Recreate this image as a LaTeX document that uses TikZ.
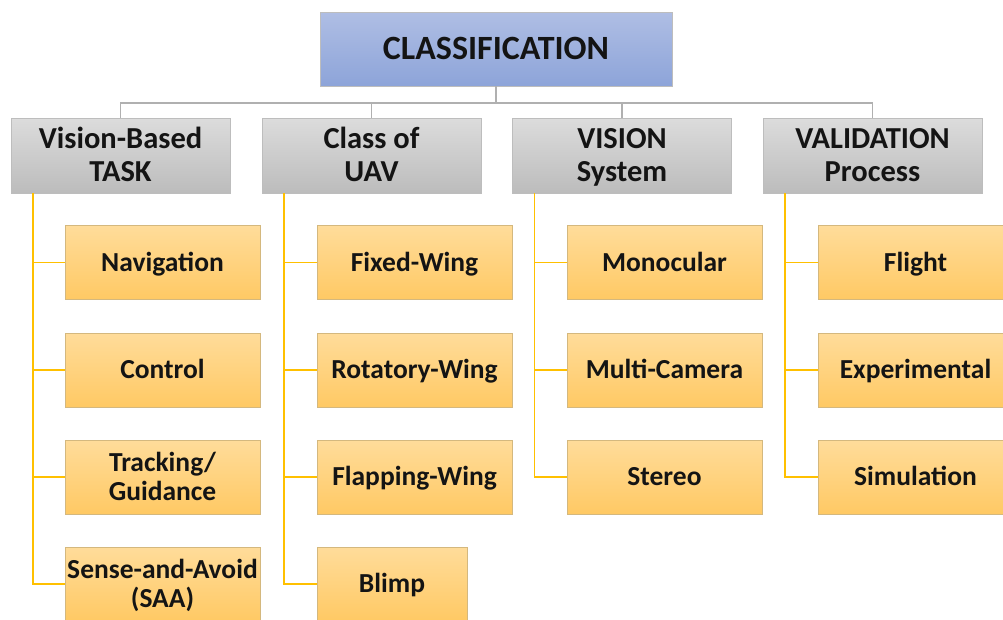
\documentclass[tikz,border=0pt]{standalone}
\usepackage{fontspec}
\setmainfont{Carlito}
\usetikzlibrary{calc}
\definecolor{rootTop}{HTML}{AFBEE4}
\definecolor{rootBot}{HTML}{8DA4D9}
\definecolor{catTop}{HTML}{DCDCDC}
\definecolor{catBot}{HTML}{BCBCBC}
\definecolor{leafTop}{HTML}{FFDC9A}
\definecolor{leafBot}{HTML}{FFC964}
\definecolor{edgeGray}{HTML}{B0B0B0}
\definecolor{branchYellow}{HTML}{FFC000}
\definecolor{rimGray}{HTML}{BDBDBD}
\definecolor{rimLeaf}{HTML}{D4B87E}
% a strut giving every text line the same height and depth
\newcommand\ls{\vrule width 0pt height 0.8em depth 0.18em\relax}
\tikzset{
  basebox/.style={rectangle, inner sep=0pt, align=center, font=\bfseries, text=black!92, line width=0.8pt},
  rootbox/.style={basebox, top color=rootTop, bottom color=rootBot, draw=rimGray,
    minimum width=352pt, minimum height=74pt, font=\bfseries\fontsize{34}{38}\selectfont},
  catbox/.style={basebox, top color=catTop, bottom color=catBot, draw=rimGray,
    minimum width=219pt, minimum height=75pt, font=\bfseries\fontsize{30.5}{33}\selectfont},
  leafbox/.style={basebox, top color=leafTop, bottom color=leafBot, draw=rimLeaf,
    minimum width=195pt, minimum height=74pt, font=\bfseries\fontsize{27.5}{29}\selectfont},
  trunk/.style={draw=edgeGray, line width=1.6pt},
  branch/.style={draw=branchYellow, line width=1.6pt},
}
\begin{document}
\begin{tikzpicture}[x=1pt,y=-1pt]
\useasboundingbox (0,0) rectangle (1003,619);
\clip (0,0) rectangle (1003,619);

% root
\node[rootbox] (root) at (496,49) {\ls CLASSIFICATION};

% categories
\node[catbox] (c1) at (120.5,155.5) {\ls Vision-Based\\\ls TASK};
\node[catbox] (c2) at (371.5,155.5) {\ls Class of\\\ls UAV};
\node[catbox] (c3) at (622,155.5) {\ls VISION\\\ls System};
\node[catbox] (c4) at (872.5,155.5) {\ls VALIDATION\\\ls Process};

% leaves, column 1
\node[leafbox] (a1) at (162.5,262.5) {\ls Navigation};
\node[leafbox] (a2) at (162.5,370) {\ls Control};
\node[leafbox] (a3) at (162.5,477) {\ls Tracking/\\\ls Guidance};
\node[leafbox] (a4) at (162.5,584) {\ls Sense-and-Avoid\\\ls (SAA)};
% column 2
\node[leafbox] (b1) at (414.5,262.5) {\ls Fixed-Wing};
\node[leafbox] (b2) at (414.5,370) {\ls Rotatory-Wing};
\node[leafbox] (b3) at (414.5,477) {\ls Flapping-Wing};
\node[leafbox, minimum width=150pt] (b4) at (392,584) {\ls Blimp};
% column 3
\node[leafbox] (d1) at (664.5,262.5) {\ls Monocular};
\node[leafbox] (d2) at (664.5,370) {\ls Multi-Camera};
\node[leafbox] (d3) at (664.5,477) {\ls Stereo};
% column 4
\node[leafbox] (e1) at (915.5,262.5) {\ls Flight};
\node[leafbox] (e2) at (915.5,370) {\ls Experimental};
\node[leafbox] (e3) at (915.5,477) {\ls Simulation};

% grey bus from the root to the categories
\coordinate (bus) at (496,103);
\draw[trunk] (root.south) -- (bus);
\draw[trunk] (bus) -| (c1.north);
\draw[trunk] (bus) -| (c2.north);
\draw[trunk] (bus) -| (c3.north);
\draw[trunk] (bus) -| (c4.north);

% yellow branches from each category to its leaves
\coordinate (t1) at ($(c1.south west)+(22.5,0)$);
\coordinate (t2) at ($(c2.south west)+(22.5,0)$);
\coordinate (t3) at ($(c3.south west)+(22.5,0)$);
\coordinate (t4) at ($(c4.south west)+(22.5,0)$);
\foreach \n in {a1,a2,a3,a4} \draw[branch] (t1) |- (\n.west);
\foreach \n in {b1,b2,b3,b4} \draw[branch] (t2) |- (\n.west);
\foreach \n in {d1,d2,d3} \draw[branch] (t3) |- (\n.west);
\foreach \n in {e1,e2,e3} \draw[branch] (t4) |- (\n.west);
\end{tikzpicture}
\end{document}
